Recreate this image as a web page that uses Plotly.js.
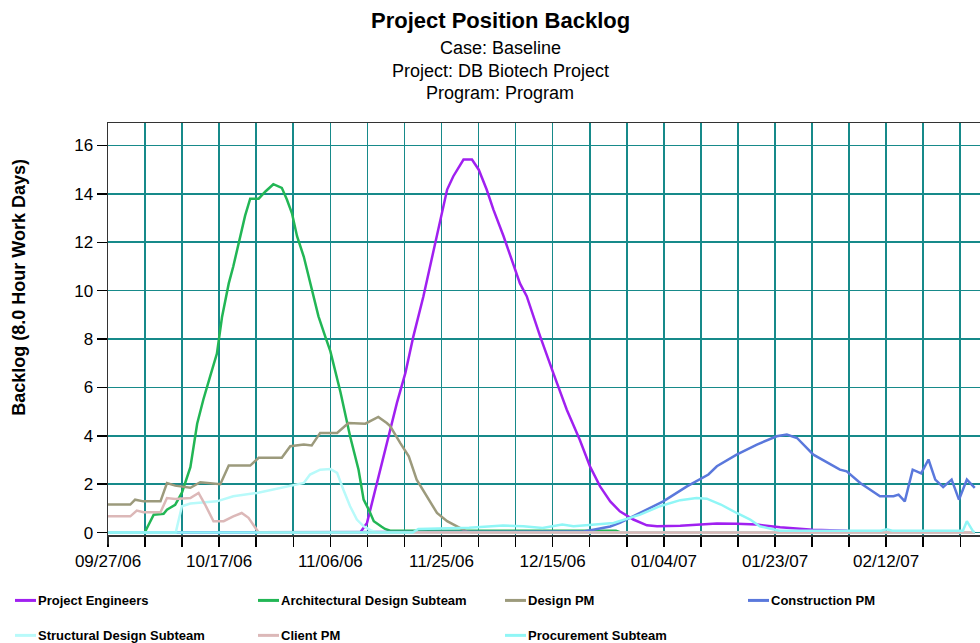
<!DOCTYPE html>
<html>
<head>
<meta charset="utf-8">
<script src="https://cdn.plot.ly/plotly-3.0.1.min.js"></script>
<style>
  html, body { margin: 0; padding: 0; overflow: hidden; background: #ffffff; }
  #chart { width: 1000px; height: 643px; }
</style>
</head>
<body>
<div id="chart"></div>
<script>
// ---- Data (x = days since 09/27/06) ----
const seriesNames = ["Project Engineers", "Architectural Design Subteam", "Design PM", "Construction PM",
                     "Structural Design Subteam", "Client PM", "Procurement Subteam"];
const seriesColors = ["#a020f0", "#22b655", "#9c9a7c", "#5a78dc", "#b8fafa", "#dcb8b8", "#90f6f6"];

const peX = [0, 44.7, 45.9, 47.7, 49.4, 51.2, 52.7, 54.1, 55.9, 57.7, 58.9, 60.1, 61.2, 63.0, 64.5, 65.7, 67.1, 68.3, 70.1, 71.9, 73.0, 74.2, 76.6, 78.9, 81.3, 83.6, 85.4, 87.2, 89.0, 90.7, 93.1, 95.5, 97.3, 101.4, 107.9, 111.4, 115.0, 119.1, 124.9, 130.9, 131.5, 153.6];
const peY = [0, 0, 0.4, 2.05, 3.7, 5.36, 6.6, 8.1, 9.77, 11.7, 12.94, 14.18, 14.73, 15.42, 15.42, 15.0, 14.18, 13.35, 12.25, 11.0, 10.3, 9.77, 8.1, 6.6, 5.08, 3.84, 2.74, 1.91, 1.29, 0.88, 0.54, 0.3, 0.26, 0.28, 0.38, 0.37, 0.33, 0.22, 0.12, 0.08, 0, 0];

const arX = [0, 6.5, 8.1, 9.85, 10.45, 11.9, 13.1, 14.6, 15.8, 16.9, 18.1, 19.3, 20.2, 21.4, 22.2, 23.4, 24.3, 25.2, 26.7, 27.9, 29.3, 30.8, 31.7, 32.6, 33.5, 34.7, 36.1, 37.3, 38.5, 39.4, 41.2, 42.9, 44.4, 45.3, 46.2, 47.1, 48.5, 49.1, 50, 90, 91, 153.6];
const arY = [0, 0, 0.74, 0.78, 0.95, 1.15, 1.65, 2.7, 4.5, 5.5, 6.46, 7.4, 8.9, 10.3, 11.0, 12.25, 13.1, 13.8, 13.8, 14.1, 14.4, 14.25, 13.77, 13.2, 12.25, 11.4, 10.05, 8.94, 8.1, 7.5, 5.8, 3.98, 2.6, 1.36, 0.95, 0.47, 0.24, 0.15, 0.08, 0.08, 0, 0];

const dpX = [0, 3.95, 4.8, 6.3, 9.3, 10.45, 11.9, 14.6, 16.35, 19.9, 21.4, 25.2, 26.7, 30.8, 32.3, 34.7, 36.1, 37.6, 40.6, 42.6, 45.6, 47.9, 49.4, 50.0, 51.8, 53.3, 54.7, 56.5, 58.3, 60.1, 62.4, 63.5, 64.5, 153.6];
const dpY = [1.16, 1.16, 1.36, 1.29, 1.29, 2.05, 1.94, 1.85, 2.08, 2.0, 2.77, 2.77, 3.09, 3.09, 3.57, 3.64, 3.6, 4.12, 4.12, 4.53, 4.5, 4.78, 4.53, 4.4, 3.7, 3.15, 2.19, 1.5, 0.81, 0.47, 0.19, 0.05, 0, 0];

const cpX = [0, 84, 86, 89, 90.7, 94.3, 98.4, 102.6, 106.4, 107.9, 111.4, 115.0, 118.5, 120.3, 122.1, 125.0, 128.0, 129.7, 130.9, 133.3, 136.8, 139.2, 140.1, 141.2, 142.6, 144.1, 145.4, 146.6, 148.0, 149.5, 150.8, 152.2, 153.6];
const cpY = [0, 0.04, 0.12, 0.25, 0.4, 0.81, 1.29, 1.91, 2.4, 2.74, 3.22, 3.64, 3.98, 4.05, 3.91, 3.22, 2.81, 2.6, 2.53, 2.05, 1.5, 1.5, 1.57, 1.29, 2.6, 2.45, 3.02, 2.19, 1.88, 2.19, 1.36, 2.19, 1.85];

const sdX = [0, 12.0, 13.1, 14.6, 19.3, 22.2, 26.4, 29.9, 32.9, 34.7, 35.8, 37.6, 39.4, 40.6, 41.7, 42.9, 44.1, 45.3, 46.5, 47.7, 153.6];
const sdY = [0, 0, 1.09, 1.2, 1.29, 1.5, 1.64, 1.81, 1.94, 2.05, 2.4, 2.6, 2.63, 2.47, 1.78, 1.09, 0.54, 0.26, 0.1, 0, 0];

const cmX = [0, 3.95, 5.1, 6.3, 9.3, 10.45, 11.9, 14.6, 16.05, 17.2, 18.7, 20.5, 22.2, 23.7, 24.9, 26.1, 26.7, 153.6];
const cmY = [0.67, 0.67, 0.91, 0.84, 0.84, 1.43, 1.39, 1.43, 1.64, 1.16, 0.47, 0.47, 0.67, 0.81, 0.61, 0.19, 0, 0];

const prX = [0, 54, 55, 64, 70, 73.6, 77, 80.5, 82.5, 86, 89.6, 94.3, 97.8, 101.4, 104.3, 106.1, 108.6, 111.4, 113.8, 115.5, 117.9, 119, 137, 138, 139, 151.5, 152.2, 153.3, 153.6];
const prY = [0, 0, 0.15, 0.2, 0.29, 0.26, 0.19, 0.33, 0.26, 0.33, 0.4, 0.74, 1.09, 1.34, 1.43, 1.4, 1.16, 0.81, 0.54, 0.26, 0.12, 0.08, 0.08, 0.14, 0.08, 0.08, 0.47, 0.05, 0.02];

const dateLabels = ["09/27/06", "10/17/06", "11/06/06", "11/25/06", "12/15/06", "01/04/07", "01/23/07", "02/12/07"];
const labelStepDays = 19.7;      // days between labelled ticks
const ticksPerLabel = 3;
const yTicks = [0, 2, 4, 6, 8, 10, 12, 14, 16];

const titleText = "Project Position Backlog";
const subtitleLines = ["Case: Baseline", "Project: DB Biotech Project", "Program: Program"];
const yTitle = "Backlog (8.0 Hour Work Days)";

// ---- Build ----
const xs = [peX, arX, dpX, cpX, sdX, cmX, prX];
const ys = [peY, arY, dpY, cpY, sdY, cmY, prY];
const traces = seriesNames.map((n, i) => ({
  type: "scatter", mode: "lines", name: n, x: xs[i], y: ys[i],
  line: { color: seriesColors[i], width: 2.5 }, showlegend: false, hoverinfo: "skip"
}));

const tickvals = [], ticktext = [];
for (let k = 0; k <= 24; k++) {
  tickvals.push(k * labelStepDays / ticksPerLabel);
  ticktext.push(k % ticksPerLabel === 0 ? (dateLabels[k / ticksPerLabel] || "") : "");
}

const W = 1000, H = 643;
const mL = 108, mR = 5, mT = 123, mB = 107.5;
const pw = W - mL - mR, ph = H - mT - mB;
const pxPerDay = 5.643;
const px2x = px => (px - mL) / pw;
const py2y = py => (H - mB - py) / ph;

const FONT = "Liberation Sans, Arial, Helvetica, sans-serif";
const annotations = [];
const shapes = [];

annotations.push({ xref: "paper", yref: "paper", x: px2x(500), y: py2y(20), text: titleText,
  showarrow: false, xanchor: "center", yanchor: "middle",
  font: { family: FONT, size: 22, color: "#000", weight: "bold" } });
subtitleLines.forEach((t, i) => annotations.push({ xref: "paper", yref: "paper", x: px2x(500), y: py2y(48 + i * 22.5),
  text: t, showarrow: false, xanchor: "center", yanchor: "middle", font: { family: FONT, size: 18, color: "#000" } }));
annotations.push({ xref: "paper", yref: "paper", x: px2x(19), y: py2y(288), text: yTitle, textangle: -90,
  showarrow: false, xanchor: "center", yanchor: "middle", font: { family: FONT, size: 18, color: "#000", weight: "bold" } });

// custom legend
const legCols = [15, 258, 505, 748];
const legRows = [601, 636];
seriesNames.forEach((n, i) => {
  const cx = legCols[i % 4], cy = legRows[Math.floor(i / 4)];
  shapes.push({ type: "line", xref: "paper", yref: "paper", x0: px2x(cx), x1: px2x(cx + 21), y0: py2y(cy), y1: py2y(cy),
    line: { color: seriesColors[i], width: 3 } });
  annotations.push({ xref: "paper", yref: "paper", x: px2x(cx + 21), y: py2y(cy), text: n, showarrow: false,
    xanchor: "left", yanchor: "middle", font: { family: FONT, size: 13, color: "#000", weight: "bold" } });
});
// left axis extension below the zero line
shapes.push({ type: "line", xref: "paper", yref: "paper", x0: 0, x1: 0, y0: 0, y1: py2y(545),
  line: { color: "#333", width: 1.5 } });

const layout = {
  width: W, height: H,
  margin: { l: mL, r: mR, t: mT, b: mB, pad: 0 },
  paper_bgcolor: "#fff", plot_bgcolor: "#fff",
  showlegend: false,
  xaxis: {
    range: [0, pw / pxPerDay], tickmode: "array", tickvals: tickvals, ticktext: ticktext,
    showgrid: true, gridcolor: "#178a8a", gridwidth: 1.6,
    ticks: "outside", ticklen: 10, tickcolor: "#000", tickwidth: 1.5,
    showline: true, mirror: true, linecolor: "#333", linewidth: 1.5, zeroline: false,
    tickfont: { family: FONT, size: 17, color: "#000" }
  },
  yaxis: {
    range: [-0.1, 16.93], tickmode: "array", tickvals: yTicks,
    showgrid: true, gridcolor: "#178a8a", gridwidth: 1.6,
    ticks: "outside", ticklen: 10, tickcolor: "#000", tickwidth: 1.5,
    showline: true, linecolor: "#333", linewidth: 1.5, zeroline: false,
    tickfont: { family: FONT, size: 17, color: "#000" }
  },
  annotations: annotations,
  shapes: shapes
};

Plotly.newPlot("chart", traces, layout, { displayModeBar: false, staticPlot: true });
</script>
</body>
</html>
